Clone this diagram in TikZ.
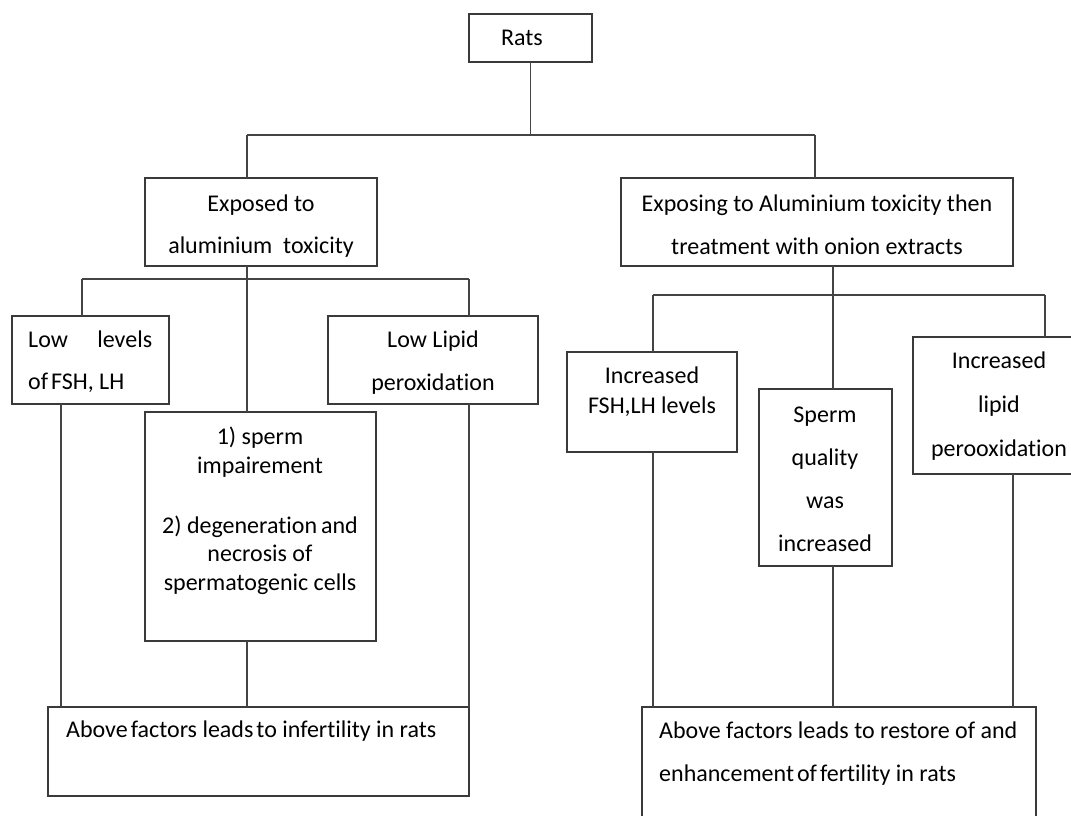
\documentclass[tikz,border=0pt]{standalone}
\usepackage{fontspec}
\setmainfont{Carlito}[Ligatures=NoCommon]
\begin{document}
\begin{tikzpicture}[x=1pt,y=-1pt,
  box/.style={draw=boxc,line width=1.5pt,minimum width=#1,anchor=north west,inner sep=0pt,outer sep=0pt},
  conn/.style={draw=linec,line width=1.3pt},
  txt/.style={inner sep=0pt,anchor=base,text=black,font=\fontsize{24}{28}\selectfont},
  txtl/.style={txt,anchor=base west}]
\definecolor{boxc}{HTML}{3A3A3A}
\definecolor{linec}{HTML}{444444}
\path[use as bounding box,clip] (0,0) rectangle (1071,815);
\fill[white] (0,0) rectangle (1071,815);
% boxes
\node[box=123pt,minimum height=48pt] (rats) at (469,14) {};
\node[box=232pt,minimum height=88pt] (expo) at (145,178) {};
\node[box=392pt,minimum height=88pt] (treat) at (621,178) {};
\node[box=157pt,minimum height=88pt] (lowlev) at (12,316) {};
\node[box=210pt,minimum height=88pt] (lowlip) at (328,316) {};
\node[box=231pt,minimum height=229pt] (mid) at (145,412) {};
\node[box=421pt,minimum height=89pt] (infert) at (48,707) {};
\node[box=170pt,minimum height=100pt] (incfsh) at (567,352) {};
\node[box=133pt,minimum height=177pt] (sperm) at (759,389) {};
\node[box=172pt,minimum height=137pt] (inclip) at (913,337) {};
\node[box=394pt,minimum height=140pt] (restore) at (642,707) {};
% junction coordinates
\coordinate (hL) at (247,135);
\coordinate (hR) at (815,135);
\coordinate (lL) at (82,279);
\coordinate (lM) at (247,279);
\coordinate (lR) at (469,279);
\coordinate (dL) at (61,500);
\coordinate (rL) at (653,295);
\coordinate (rM) at (833,295);
\coordinate (rR) at (1045,295);
\coordinate (dR) at (1013,600);
% connectors
\draw[conn] (rats.south) -- (rats.south |- hL);
\draw[conn] (hL) -- (hR);
\draw[conn] (hL) -- (hL |- expo.north);
\draw[conn] (hR) -- (hR |- treat.north);
\draw[conn] (lM |- expo.south) -- (lM |- mid.north);
\draw[conn] (lL) -- (lR);
\draw[conn] (lL) -- (lL |- lowlev.north);
\draw[conn] (lR) -- (lR |- lowlip.north);
\draw[conn] (dL |- lowlev.south) -- (dL |- infert.north);
\draw[conn] (lM |- mid.south) -- (lM |- infert.north);
\draw[conn] (lR |- lowlip.south) -- (lR |- infert.north);
\draw[conn] (rM |- treat.south) -- (rM |- sperm.north);
\draw[conn] (rL) -- (rR);
\draw[conn] (rL) -- (rL |- incfsh.north);
\draw[conn] (rR) -- (rR |- inclip.north);
\draw[conn] (rL |- incfsh.south) -- (rL |- restore.north);
\draw[conn] (rM |- sperm.south) -- (rM |- restore.north);
\draw[conn] (dR |- inclip.south) -- (dR |- restore.north);
% texts
\node[txt] (tRats) at (522,45) {Rats};
\node[txt] (tE1) at (261,211) {Exposed to};
\node[txt] (tE2) at (261,253) {aluminium\ \ toxicity};
\node[txt] (tT1) at (817,211) {Exposing to Aluminium toxicity then};
\node[txt] (tT2) at (817,254) {treatment with onion extracts};
\node[txtl] (tLL1) at (28,347) {\hbox to 124pt{Low\hfill levels}};
\node[txtl] (tLL2) at (28,389) {of\kern3pt FSH, LH};
\node[txt] (tLP1) at (433,347) {Low Lipid};
\node[txt] (tLP2) at (433,390) {peroxidation};
\node[txt] (tM1) at (260,444) {1) sperm};
\node[txt] (tM2) at (260,473) {impairement};
\node[txt] (tM3) at (260,533) {2) degeneration\kern4pt and};
\node[txt] (tM4) at (260,561) {necrosis of};
\node[txt] (tM5) at (260,590) {spermatogenic cells};
\node[txtl] (tI) at (66,737) {Above\kern3pt factors leads\kern3pt to infertility in rats};
\node[txt] (tF1) at (652,383) {Increased};
\node[txt] (tF2) at (652,413) {FSH,LH levels};
\node[txt] (tS1) at (825,422) {Sperm};
\node[txt] (tS2) at (825,465) {quality};
\node[txt] (tS3) at (825,508) {was};
\node[txt] (tS4) at (825,551) {increased};
\node[txt] (tP1) at (999,368) {Increased};
\node[txt] (tP2) at (999,412) {lipid};
\node[txt] (tP3) at (999,456) {perooxidation};
\node[txtl] (tR1) at (659,738) {Above factors leads to restore of and};
\node[txtl] (tR2) at (659,781) {enhancement\kern3pt of\kern3pt fertility in rats};
\end{tikzpicture}
\end{document}
